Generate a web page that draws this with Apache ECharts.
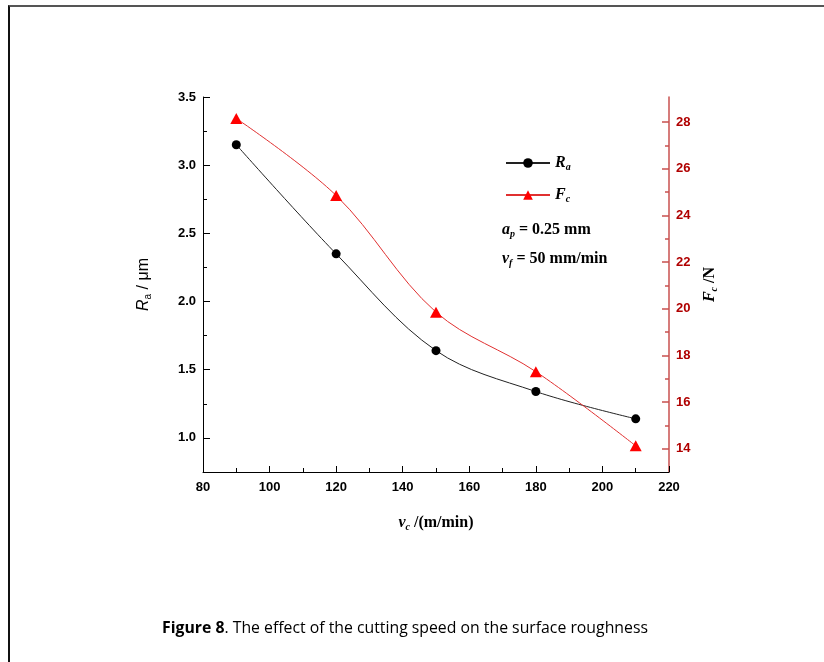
<!DOCTYPE html>
<html>
<head>
<meta charset="utf-8">
<script src="https://cdn.jsdelivr.net/npm/echarts@6/dist/echarts.min.js"></script>
<style>
  html, body { margin: 0; padding: 0; background: #fff; }
  #frame { position: absolute; left: 8px; top: 5px; width: 830px; height: 680px;
           border-top: 2px solid #555; border-left: 2px solid #111; }
  #chart { position: absolute; left: 0; top: 0; width: 824px; height: 662px; }
</style>
</head>
<body>
<div id="frame"></div>
<div id="chart"></div>
<script>
// cutting speed v_c (m/min)
const speeds = [90, 120, 150, 180, 210];
// surface roughness Ra (μm)
const roughness = [3.15, 2.35, 1.64, 1.34, 1.14];
// cutting force Fc (N)
const force = [28.15, 24.85, 19.85, 17.3, 14.12];

const raLabels = [1.0, 1.5, 2.0, 2.5, 3.0, 3.5];
const raMinor = [1.25, 1.75, 2.25, 2.75, 3.25];
const fcLabels = [14, 16, 18, 20, 22, 24, 26, 28];
const fcMinor = [15, 17, 19, 21, 23, 25, 27];

const tickFont = { fontFamily: 'Liberation Sans', fontWeight: 'bold', fontSize: 13 };
const forceRed = '#c8504f';

const chart = echarts.init(document.getElementById('chart'));

const serifRich = {
  i: { fontFamily: 'Liberation Serif', fontStyle: 'italic', fontWeight: 'bold', fontSize: 16, color: '#000' },
  s: { fontFamily: 'Liberation Serif', fontStyle: 'italic', fontWeight: 'bold', fontSize: 10, color: '#000', verticalAlign: 'bottom', padding: [8, 0, 0, 0] },
  t: { fontFamily: 'Liberation Serif', fontWeight: 'bold', fontSize: 16, color: '#000' }
};

chart.setOption({
  animation: false,
  grid: { left: 203, right: 155, top: 97, bottom: 190 },
  legend: {
    orient: 'vertical',
    left: 500,
    top: 150,
    itemWidth: 44,
    itemHeight: 12,
    itemGap: 15,
    data: ['Ra', 'Fc'],
    formatter: function (name) {
      return name === 'Ra' ? '{i|R}{s|a}' : '{i|F}{s|c}';
    },
    textStyle: { rich: serifRich }
  },
  xAxis: {
    type: 'value',
    min: 80, max: 220, interval: 20,
    name: '{i|v}{s|c}{t| /(m/min)}',
    nameLocation: 'middle',
    nameGap: 42,
    nameTextStyle: { rich: serifRich },
    axisLine: { lineStyle: { color: '#000', width: 1 } },
    axisTick: { inside: true, length: 6, lineStyle: { color: '#000' } },
    minorTick: { show: true, splitNumber: 2, length: 4, lineStyle: { color: '#000' } },
    axisLabel: Object.assign({ color: '#000', margin: 9 }, tickFont),
    splitLine: { show: false }
  },
  yAxis: [
    {
      type: 'value', min: 0.75, max: 3.5, position: 'left',
      name: '{i|R}{s|a}{u| / μm}',
      nameLocation: 'middle', nameGap: 50, nameRotate: 90,
      nameTextStyle: {
        rich: {
          i: { fontFamily: 'Liberation Sans', fontStyle: 'italic', fontSize: 16, color: '#000' },
          s: { fontFamily: 'Liberation Sans', fontSize: 10, color: '#000', verticalAlign: 'bottom', padding: [8, 0, 0, 0] },
          u: { fontFamily: 'Liberation Sans', fontSize: 16, color: '#000' }
        }
      },
      axisLine: { show: true, lineStyle: { color: '#000', width: 1 } },
      axisTick: { show: true, inside: true, length: 7, customValues: raLabels, lineStyle: { color: '#000' } },
      axisLabel: Object.assign({ color: '#000', margin: 7, customValues: raLabels,
        formatter: function (v) { return v.toFixed(1); } }, tickFont),
      splitLine: { show: false }
    },
    {
      type: 'value', min: 0.75, max: 3.5, position: 'left',
      axisLine: { show: false },
      axisTick: { show: true, inside: true, length: 4, customValues: raMinor, lineStyle: { color: '#000' } },
      axisLabel: { show: false },
      splitLine: { show: false }
    },
    {
      type: 'value', min: 13, max: 29.07, position: 'right',
      name: '{i|F}{s|c}{t| /N}',
      nameLocation: 'middle', nameGap: 32, nameRotate: 90,
      nameTextStyle: { rich: serifRich },
      axisLine: { show: true, lineStyle: { color: forceRed, width: 1.5 } },
      axisTick: { show: true, inside: true, length: 7, customValues: fcLabels, lineStyle: { color: forceRed, width: 1.5 } },
      axisLabel: Object.assign({ color: '#b00000', margin: 7, customValues: fcLabels }, tickFont),
      splitLine: { show: false }
    },
    {
      type: 'value', min: 13, max: 29.07, position: 'right',
      axisLine: { show: false },
      axisTick: { show: true, inside: true, length: 4, customValues: fcMinor, lineStyle: { color: forceRed, width: 1.5 } },
      axisLabel: { show: false },
      splitLine: { show: false }
    }
  ],
  graphic: [
    {
      type: 'text', left: 502, top: 222,
      style: { text: '{i|a}{s|p}{t| = 0.25 mm}', rich: serifRich }
    },
    {
      type: 'text', left: 502, top: 251,
      style: { text: '{i|v}{s|f}{t| = 50 mm/min}', rich: serifRich }
    },
    {
      type: 'text', left: 162, top: 620,
      style: {
        text: '{b|Figure 8}{n|. The effect of the cutting speed on the surface roughness}',
        rich: {
          b: { fontFamily: 'Open Sans', fontWeight: 'bold', fontSize: 15.8, color: '#111' },
          n: { fontFamily: 'Open Sans', fontSize: 15.8, color: '#111' }
        }
      }
    }
  ],
  series: [
    {
      name: 'Ra', type: 'line', yAxisIndex: 0, smooth: 0.35,
      data: speeds.map((x, i) => [x, roughness[i]]),
      symbol: 'circle', symbolSize: 9,
      lineStyle: { color: '#222', width: 1 },
      itemStyle: { color: '#000' }
    },
    {
      name: 'Fc', type: 'line', yAxisIndex: 2, smooth: 0.35,
      data: speeds.map((x, i) => [x, force[i]]),
      symbol: 'triangle', symbolSize: [12, 11],
      lineStyle: { color: '#e03030', width: 1 },
      itemStyle: { color: '#ff0000' }
    }
  ]
});
</script>
</body>
</html>
